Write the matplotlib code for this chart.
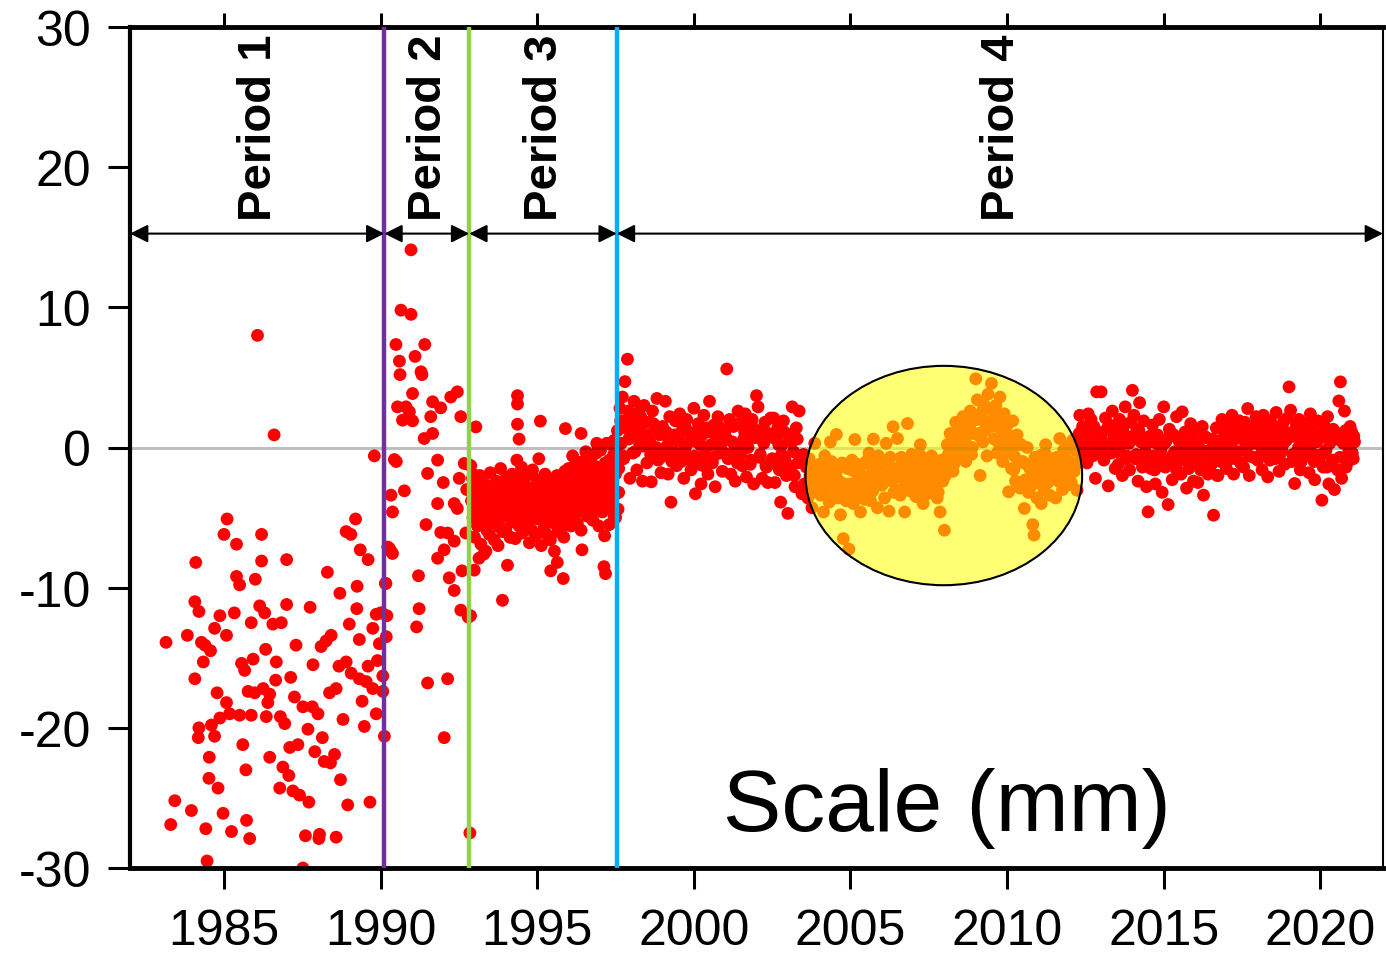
import matplotlib
matplotlib.use("Agg")
import matplotlib.pyplot as plt
from matplotlib.patches import Ellipse
import numpy as np

plt.rcParams['font.family'] = ['Liberation Sans', 'DejaVu Sans']
plt.rcParams['axes.unicode_minus'] = False

# ---------------- data ----------------
period_bounds = [1982.0, 1990.12, 1992.83, 1997.54, 2022.0]
period_labels = ["Period 1", "Period 2", "Period 3", "Period 4"]
period_label_x = [1986.11, 1991.55, 1995.25, 2009.83]
boundary_colors = ["#7030A0", "#92D050", "#00B0F0"]

x_ticks = [1985, 1990, 1995, 2000, 2005, 2010, 2015, 2020]
y_ticks = [-30, -20, -10, 0, 10, 20, 30]

p1_year = [1983.15, 1983.3, 1983.43, 1983.83, 1983.96, 1984.07, 1984.07, 1984.1, 1984.2, 1984.18,
           1984.2, 1984.28, 1984.34, 1984.39, 1984.42, 1984.46, 1984.52, 1984.53, 1984.57, 1984.6,
           1984.7, 1984.7, 1984.78, 1984.81, 1984.87, 1984.87, 1984.97, 1985.0, 1985.08, 1985.08,
           1985.1, 1985.18, 1985.24, 1985.33, 1985.4, 1985.4, 1985.5, 1985.5, 1985.56, 1985.6,
           1985.66, 1985.7, 1985.72, 1985.77, 1985.82, 1985.87, 1985.87, 1985.93, 1985.98, 1986.0,
           1986.07, 1986.14, 1986.2, 1986.2, 1986.25, 1986.3, 1986.33, 1986.35, 1986.4, 1986.46,
           1986.46, 1986.56, 1986.6, 1986.65, 1986.67, 1986.78, 1986.8, 1986.83, 1986.88, 1986.94,
           1987.0, 1987.0, 1987.07, 1987.1, 1987.13, 1987.2, 1987.25, 1987.3, 1987.36, 1987.41,
           1987.52, 1987.52, 1987.6, 1987.68, 1987.71, 1987.75, 1987.82, 1987.84, 1987.9, 1988.0,
           1988.03, 1988.05, 1988.1, 1988.14, 1988.2, 1988.26, 1988.3, 1988.37, 1988.4, 1988.42,
           1988.53, 1988.58, 1988.58, 1988.67, 1988.72, 1988.8, 1988.9, 1988.95, 1989.0, 1989.05,
           1989.06, 1988.9, 1989.2, 1989.24, 1989.25, 1989.32, 1989.32, 1989.35, 1989.41, 1989.48,
           1989.54, 1989.6, 1989.6, 1989.66, 1989.75, 1989.75, 1989.8, 1989.86, 1989.86, 1989.9,
           1989.96, 1990.0, 1990.04, 1990.07, 1990.07, 1990.12, 1990.15, 1988.7]
p1_val = [-13.9, -26.9, -25.2, -13.4, -25.9, -11.0, -16.5, -8.2, -11.7, -20.7,
          -20.0, -13.9, -15.3, -14.1, -27.2, -29.5, -23.6, -22.1, -14.5, -19.8,
          -12.9, -20.6, -17.5, -24.3, -12.0, -19.3, -26.1, -6.2, -13.4, -18.2,
          -5.1, -19.0, -27.4, -11.8, -6.9, -9.2, -9.8, -19.1, -15.4, -21.2,
          -15.9, -23.0, -26.6, -17.4, -27.9, -12.5, -19.1, -15.1, -17.5, -9.4,
          8.0, -11.3, -6.2, -8.1, -17.2, -11.8, -14.4, -19.2, -18.2, -17.6,
          -22.1, -12.6, 0.9, -16.6, -15.3, -24.3, -19.2, -12.5, -22.8, -19.7,
          -8.0, -11.2, -23.4, -21.4, -16.4, -24.5, -17.8, -14.1, -21.2, -24.8,
          -18.5, -30.0, -27.7, -20.1, -25.3, -11.4, -18.5, -15.5, -21.7, -19.0,
          -27.9, -27.6, -14.2, -20.7, -22.4, -13.8, -8.9, -17.5, -22.5, -13.4,
          -21.9, -17.2, -27.8, -15.6, -23.7, -19.4, -15.3, -25.5, -12.6, -6.2,
          -16.1, -6.0, -5.1, -11.5, -9.9, -13.7, -16.5, -7.3, -18.1, -19.9,
          -16.7, -8.0, -15.6, -25.3, -12.9, -17.2, -0.6, -11.9, -19.0, -15.2,
          -14.0, -11.8, -11.8, -16.3, -17.4, -20.6, -9.7, -10.4]

p2_year = [1990.97, 1990.65, 1990.97, 1990.49, 1991.41, 1991.1, 1990.6, 1990.62, 1991.29, 1991.32,
           1991.02, 1990.54, 1990.81, 1990.92, 1990.7, 1991.02, 1991.66, 1991.92, 1992.24, 1992.45,
           1991.6, 1992.56, 1991.39, 1991.66, 1990.44, 1991.82, 1991.5, 1992.51, 1992.67, 1992.8,
           1990.76, 1990.33, 1990.38, 1991.82, 1992.35, 1992.45, 1991.45, 1991.92, 1992.14, 1992.35,
           1992.72, 1990.28, 1990.38, 1992.03, 1991.82, 1990.17, 1991.21, 1992.19, 1992.35, 1992.56,
           1991.23, 1991.15, 1992.8, 1991.5, 1992.14, 1992.03, 1992.85, 1990.23, 1990.33, 1990.2,
           1990.18, 1992.6, 1992.75, 1990.5, 1992.0]
p2_val = [14.1, 9.8, 9.5, 7.35, 7.35, 6.5, 6.16, 5.2, 5.4, 5.2,
          3.85, 2.9, 2.9, 2.55, 1.95, 1.9, 3.26, 2.83, 3.6, 3.97,
          2.2, 2.2, 0.64, 1.0, -0.86, -0.9, -1.85, -2.2, -1.14, -1.2,
          -3.09, -3.4, -4.6, -4.0, -4.0, -4.35, -5.5, -6.06, -6.1, -6.68,
          -6.1, -7.2, -7.56, -7.3, -7.9, -9.7, -9.15, -9.3, -10.2, -11.6,
          -11.5, -12.8, -12.1, -16.8, -16.5, -20.7, -27.5, -7.1, -7.4, -12.0,
          -13.5, -8.8, -3.0, -1.0, -2.5]

p3_year = [1992.88, 1992.9, 1992.93, 1992.95, 1992.98, 1993.0, 1993.03, 1993.06, 1993.09, 1993.12,
           1993.15, 1993.17, 1993.2, 1993.22, 1993.25, 1993.28, 1993.3, 1993.33, 1993.36, 1993.39,
           1993.42, 1993.44, 1993.47, 1993.5, 1993.52, 1993.55, 1993.58, 1993.6, 1993.63, 1993.65,
           1993.67, 1993.7, 1993.72, 1993.75, 1993.78, 1993.8, 1993.83, 1993.85, 1993.88, 1993.9,
           1993.92, 1993.95, 1993.97, 1994.0, 1994.02, 1994.05, 1994.08, 1994.1, 1994.13, 1994.15,
           1994.17, 1994.2, 1994.22, 1994.25, 1994.28, 1994.3, 1994.33, 1994.35, 1994.38, 1994.4,
           1994.42, 1994.45, 1994.47, 1994.5, 1994.52, 1994.55, 1994.58, 1994.6, 1994.63, 1994.65,
           1994.67, 1994.7, 1994.72, 1994.75, 1994.78, 1994.8, 1994.83, 1994.85, 1994.88, 1994.9,
           1994.92, 1994.95, 1994.97, 1995.0, 1995.02, 1995.05, 1995.08, 1995.1, 1995.13, 1995.15,
           1995.17, 1995.2, 1995.22, 1995.25, 1995.28, 1995.3, 1995.33, 1995.35, 1995.38, 1995.4,
           1995.42, 1995.45, 1995.47, 1995.5, 1995.52, 1995.55, 1995.58, 1995.6, 1995.63, 1995.65,
           1995.67, 1995.7, 1995.72, 1995.75, 1995.78, 1995.8, 1995.83, 1995.85, 1995.88, 1995.9,
           1995.92, 1995.95, 1995.97, 1996.0, 1996.02, 1996.05, 1996.08, 1996.1, 1996.13, 1996.15,
           1996.17, 1996.2, 1996.22, 1996.25, 1996.28, 1996.3, 1996.33, 1996.35, 1996.38, 1996.4,
           1996.42, 1996.45, 1996.47, 1996.5, 1996.52, 1996.55, 1996.58, 1996.6, 1996.63, 1996.65,
           1996.67, 1996.7, 1996.72, 1996.75, 1996.78, 1996.8, 1996.83, 1996.85, 1996.88, 1996.9,
           1996.92, 1996.95, 1996.97, 1997.0, 1997.02, 1997.05, 1997.08, 1997.1, 1997.13, 1997.15,
           1997.17, 1997.2, 1997.22, 1997.25, 1997.28, 1997.3, 1997.33, 1997.35, 1997.38, 1997.4,
           1997.42, 1997.44, 1997.46, 1997.48, 1997.5, 1997.52, 1997.53,
           1994.37, 1994.37, 1994.37, 1995.1, 1995.9, 1994.42, 1993.89, 1992.99, 1995.43, 1995.83,
           1997.13, 1997.18, 1996.43, 1994.15, 1995.64, 1993.14, 1993.36, 1993.04, 1993.0, 1992.87,
           1996.9, 1997.45, 1996.4, 1997.3, 1997.5]
p3_val = [-1.3, -3.8, -2.2, -5.0, -3.1, -6.4, -4.2, -2.7, -5.6, -3.6,
          -4.8, -2.0, -6.9, -3.3, -5.2, -4.0, -7.6, -2.6, -4.6, -5.9,
          -3.0, -4.4, -6.2, -1.8, -3.9, -5.1, -2.9, -4.7, -6.6, -3.5,
          -5.4, -2.4, -4.1, -7.0, -3.2, -5.7, -1.5, -4.5, -3.7, -6.0,
          -2.8, -4.9, -3.4, -5.8, -2.1, -8.4, -4.3, -3.0, -6.4, -5.0,
          -3.6, -1.9, -5.3, -4.0, -2.6, -6.5, -3.3, -0.9, -4.7, -2.2,
          -5.6, -3.1, -4.4, -1.4, -6.1, -3.8, -2.5, -5.0, -3.4, -4.6,
          -2.0, -5.4, -3.7, -6.8, -2.9, -4.2, -5.9, -1.6, -3.5, -4.8,
          -3.0, -6.3, -4.0, -2.3, -5.1, -0.8, -3.6, -4.5, -7.0, -2.7,
          -4.9, -3.2, -5.7, -1.9, -4.3, -6.2, -3.0, -5.3, -2.4, -4.0,
          -6.6, -3.5, -5.0, -2.6, -4.6, -7.4, -3.9, -5.5, -2.0, -4.3,
          -6.0, -3.1, -4.8, -5.9, -2.3, -4.1, -3.4, -6.4, -1.7, -3.8,
          -5.2, -2.7, -3.6, -1.5, -4.4, -2.2, -5.6, -3.1, -0.6, -3.9,
          -2.4, -4.8, -1.2, -3.5, -5.4, -2.0, -3.0, -4.2, -1.8, -5.9,
          -3.3, -1.0, -4.5, -2.6, -3.8, -0.3, -2.9, -4.9, -1.6, -3.5,
          -2.2, -4.1, -0.8, -3.2, -5.2, -1.9, -2.7, -4.4, -0.4, -3.6,
          -1.4, -3.0, -5.6, -2.1, -0.2, -3.8, -4.6, -1.7, -2.8, -6.3,
          -1.1, -3.4, 0.3, -2.4, -4.3, -0.9, -2.0, -3.7, 0.2, -1.6,
          -2.9, -0.5, -4.9, 0.4, -1.9, -3.3, -0.2,
          3.7, 3.1, 1.66, 1.88, 1.35, 0.6, -10.9, -8.75, -8.8, -9.35,
          -8.5, -9.0, -7.3, -6.4, -8.2, -7.9, -7.4, 1.47, -1.97, -12.0,
          0.3, 0.5, 1.0, -5.5, -5.0]

p3b_year = [1993.01, 1993.11, 1993.21, 1993.31, 1993.41, 1993.51, 1993.61, 1993.71, 1993.81, 1993.91,
            1994.01, 1994.11, 1994.21, 1994.31, 1994.41, 1994.51, 1994.61, 1994.71, 1994.81, 1994.91,
            1995.01, 1995.11, 1995.21, 1995.31, 1995.41, 1995.51, 1995.61, 1995.71, 1995.81, 1995.91,
            1996.01, 1996.11, 1996.21, 1996.31, 1996.41, 1996.51, 1996.61, 1996.71, 1996.81, 1996.91,
            1997.01, 1997.11, 1997.21, 1997.31, 1997.41, 1997.51]
p3b_val = [-4.5, -3.4, -4.2, -5.0, -3.8, -4.6, -3.3, -4.9, -4.0, -3.2,
           -4.6, -3.7, -4.3, -3.0, -4.8, -3.6, -4.1, -3.2, -4.5, -3.9,
           -4.2, -3.1, -4.6, -3.5, -4.9, -3.8, -4.4, -3.3, -4.7, -2.9,
           -3.4, -2.6, -3.9, -2.9, -3.7, -2.2, -3.2, -2.7, -3.4, -2.4,
           -2.9, -2.0, -3.1, -1.4, -2.4, -1.2]

p4_year = [1997.56, 1997.6, 1997.64, 1997.68, 1997.72, 1997.76, 1997.8, 1997.84, 1997.88, 1997.92, 1997.96,
           1998.0, 1998.05, 1998.09, 1998.14, 1998.18, 1998.23, 1998.27, 1998.32, 1998.36, 1998.41, 1998.45,
           1998.5, 1998.55, 1998.59, 1998.64, 1998.68, 1998.73, 1998.77, 1998.82, 1998.86, 1998.91, 1998.95,
           1999.0, 1999.05, 1999.09, 1999.14, 1999.18, 1999.23, 1999.27, 1999.32, 1999.36, 1999.41, 1999.45,
           1999.5, 1999.55, 1999.59, 1999.64, 1999.68, 1999.73, 1999.77, 1999.82, 1999.86, 1999.91, 1999.95,
           2000.0, 2000.05, 2000.09, 2000.14, 2000.18, 2000.23, 2000.27, 2000.32, 2000.36, 2000.41, 2000.45,
           2000.5, 2000.55, 2000.59, 2000.64, 2000.68, 2000.73, 2000.77, 2000.82, 2000.86, 2000.91, 2000.95,
           2001.0, 2001.05, 2001.09, 2001.14, 2001.18, 2001.23, 2001.27, 2001.32, 2001.36, 2001.41, 2001.45,
           2001.5, 2001.55, 2001.59, 2001.64, 2001.68, 2001.73, 2001.77, 2001.82, 2001.86, 2001.91, 2001.95,
           2002.0, 2002.05, 2002.09, 2002.14, 2002.18, 2002.23, 2002.27, 2002.32, 2002.36, 2002.41, 2002.45,
           2002.5, 2002.55, 2002.59, 2002.64, 2002.68, 2002.73, 2002.77, 2002.82, 2002.86, 2002.91, 2002.95,
           2003.0, 2003.05, 2003.09, 2003.14, 2003.18, 2003.23, 2003.27, 2003.32, 2003.36, 2003.41, 2003.45,
           2003.5, 2003.55, 2003.59, 2003.64, 2003.68, 2003.73, 2003.77, 2003.82, 2003.86, 2003.91, 2003.95,
           2004.0, 2004.05, 2004.09, 2004.14, 2004.18, 2004.23, 2004.27, 2004.32, 2004.36, 2004.41, 2004.45,
           2004.5, 2004.55, 2004.59, 2004.64, 2004.68, 2004.73, 2004.77, 2004.82, 2004.86, 2004.91, 2004.95,
           2005.0, 2005.05, 2005.09, 2005.14, 2005.18, 2005.23, 2005.27, 2005.32, 2005.36, 2005.41, 2005.45,
           2005.5, 2005.55, 2005.59, 2005.64, 2005.68, 2005.73, 2005.77, 2005.82, 2005.86, 2005.91, 2005.95,
           2006.0, 2006.05, 2006.09, 2006.14, 2006.18, 2006.23, 2006.27, 2006.32, 2006.36, 2006.41, 2006.45,
           2006.5, 2006.55, 2006.59, 2006.64, 2006.68, 2006.73, 2006.77, 2006.82, 2006.86, 2006.91, 2006.95,
           2007.0, 2007.05, 2007.09, 2007.14, 2007.18, 2007.23, 2007.27, 2007.32, 2007.36, 2007.41, 2007.45,
           2007.5, 2007.55, 2007.59, 2007.64, 2007.68, 2007.73, 2007.77, 2007.82, 2007.86, 2007.91, 2007.95,
           2008.0, 2008.05, 2008.09, 2008.14, 2008.18, 2008.23, 2008.27, 2008.32, 2008.36, 2008.41, 2008.45,
           2008.5, 2008.55, 2008.59, 2008.64, 2008.68, 2008.73, 2008.77, 2008.82, 2008.86, 2008.91, 2008.95,
           2009.0, 2009.05, 2009.09, 2009.14, 2009.18, 2009.23, 2009.27, 2009.32, 2009.36, 2009.41, 2009.45,
           2009.5, 2009.55, 2009.59, 2009.64, 2009.68, 2009.73, 2009.77, 2009.82, 2009.86, 2009.91, 2009.95,
           2010.0, 2010.05, 2010.09, 2010.14, 2010.18, 2010.23, 2010.27, 2010.32, 2010.36, 2010.41, 2010.45,
           2010.5, 2010.55, 2010.59, 2010.64, 2010.68, 2010.73, 2010.77, 2010.82, 2010.86, 2010.91, 2010.95,
           2011.0, 2011.05, 2011.09, 2011.14, 2011.18, 2011.23, 2011.27, 2011.32, 2011.36, 2011.41, 2011.45,
           2011.5, 2011.55, 2011.59, 2011.64, 2011.68, 2011.73, 2011.77, 2011.82, 2011.86, 2011.91, 2011.95,
           2012.0, 2012.05, 2012.09, 2012.14, 2012.18, 2012.23, 2012.27, 2012.32, 2012.36, 2012.41, 2012.45,
           2012.5, 2012.55, 2012.59, 2012.64, 2012.68, 2012.73, 2012.77, 2012.82, 2012.86, 2012.91, 2012.95,
           2013.0, 2013.05, 2013.09, 2013.14, 2013.18, 2013.23, 2013.27, 2013.32, 2013.36, 2013.41, 2013.45,
           2013.5, 2013.55, 2013.59, 2013.64, 2013.68, 2013.73, 2013.77, 2013.82, 2013.86, 2013.91, 2013.95,
           2014.0, 2014.05, 2014.09, 2014.14, 2014.18, 2014.23, 2014.27, 2014.32, 2014.36, 2014.41, 2014.45,
           2014.5, 2014.55, 2014.59, 2014.64, 2014.68, 2014.73, 2014.77, 2014.82, 2014.86, 2014.91, 2014.95,
           2015.0, 2015.05, 2015.09, 2015.14, 2015.18, 2015.23, 2015.27, 2015.32, 2015.36, 2015.41, 2015.45,
           2015.5, 2015.55, 2015.59, 2015.64, 2015.68, 2015.73, 2015.77, 2015.82, 2015.86, 2015.91, 2015.95,
           2016.0, 2016.05, 2016.09, 2016.14, 2016.18, 2016.23, 2016.27, 2016.32, 2016.36, 2016.41, 2016.45,
           2016.5, 2016.55, 2016.59, 2016.64, 2016.68, 2016.73, 2016.77, 2016.82, 2016.86, 2016.91, 2016.95,
           2017.0, 2017.05, 2017.09, 2017.14, 2017.18, 2017.23, 2017.27, 2017.32, 2017.36, 2017.41, 2017.45,
           2017.5, 2017.55, 2017.59, 2017.64, 2017.68, 2017.73, 2017.77, 2017.82, 2017.86, 2017.91, 2017.95,
           2018.0, 2018.05, 2018.09, 2018.14, 2018.18, 2018.23, 2018.27, 2018.32, 2018.36, 2018.41, 2018.45,
           2018.5, 2018.55, 2018.59, 2018.64, 2018.68, 2018.73, 2018.77, 2018.82, 2018.86, 2018.91, 2018.95,
           2019.0, 2019.05, 2019.09, 2019.14, 2019.18, 2019.23, 2019.27, 2019.32, 2019.36, 2019.41, 2019.45,
           2019.5, 2019.55, 2019.59, 2019.64, 2019.68, 2019.73, 2019.77, 2019.82, 2019.86, 2019.91, 2019.95,
           2020.0, 2020.05, 2020.09, 2020.14, 2020.18, 2020.23, 2020.27, 2020.32, 2020.36, 2020.41, 2020.45,
           2020.5, 2020.55, 2020.59, 2020.64, 2020.68, 2020.73, 2020.77, 2020.82, 2020.86, 2020.91, 2020.95,
           2021.0, 2021.05, 2021.09, 1997.58, 1997.6]
p4_val = [1.2, -1.5, 2.8, 0.3, 3.6, -0.8, 4.7, 1.9, 6.3, 0.6, -2.2,
          2.1, -0.4, 3.3, 1.0, -1.6, 2.5, 0.2, 1.6, -2.4, 3.0, 0.7,
          -1.1, 1.8, 0.4, -2.45, 2.6, -0.2, 1.2, 3.5, -0.9, 0.9, -1.8,
          1.5, -0.6, 3.3, 0.1, -1.9, 2.2, -3.9, 0.8, -0.3, 1.9, -1.3,
          0.5, 2.4, -1.0, 1.3, -2.2, 0.0, 2.0, -0.7, 1.1, -1.6, 0.6,
          2.8, -3.3, 0.4, 1.7, -1.2, -2.6, 0.9, 2.3, -0.5, 1.4, -1.9,
          3.3, 0.2, -1.1, 1.6, -2.8, 0.8, 2.2, -0.4, 1.0, -1.7, 0.5,
          1.2, 5.6, -0.8, 2.0, -1.9, 0.4, 1.5, -2.4, 0.1, 2.6, -0.6,
          1.8, -1.3, 0.6, 2.4, -2.1, 0.0, 1.3, -0.9, 2.0, -2.6, 0.7,
          3.7, 2.9, -0.7, 1.1, -2.2, 0.3, 1.8, -1.4, -2.5, 0.8, 2.1,
          -0.8, 2.1, -2.5, 0.6, 1.4, -1.6, -3.9, 0.2, 1.9, -0.9, -2.0,
          -4.7, 0.9, -1.7, 2.9, -0.3, -2.8, 1.4, -1.1, 2.6, -0.6, -3.3,
          -0.5, -2.9, -1.4, -3.6, -0.8, -2.2, -4.3, -1.7, 0.3, -2.6, -3.1,
          -1.2, -3.4, -2.0, -4.6, -0.6, -2.7, -1.6, -3.9, 0.4, -2.3, -3.0,
          -1.8, 0.93, -3.6, -2.4, -4.8, -1.1, -6.5, -2.9, -3.8, -1.5, -7.25,
          -2.6, -0.9, -4.0, 0.57, -1.8, -3.3, -2.2, -4.6, -1.2, -2.8, -3.7,
          -1.0, -2.9, -0.4, -3.8, -1.9, 0.6, -2.5, -1.4, -4.3, -0.9, -2.2,
          -2.7, -1.1, -3.6, 0.3, -1.9, -4.54, -0.7, -2.4, 1.48, -1.5, -3.0,
          0.64, -2.1, -3.4, -0.9, -1.6, -4.6, -2.6, 1.71, -1.2, -3.1, -0.5,
          -2.3, -0.8, -3.5, -1.5, -2.8, 0.2, -1.9, -4.0, -1.0, -2.6, -3.3,
          -1.4, -3.0, -0.6, -2.2, -1.7, -2.8, -3.6, -2.4, -4.6, -0.9, -2.4,
          -5.9, -1.5, 0.2, -0.9, 1.0, -0.3, -1.7, 0.8, 1.8, -0.6, 0.4,
          1.3, -0.2, 2.2, 0.6, -1.0, 1.7, 0.1, 2.6, -0.5, 1.0, 2.0,
          4.9, 3.4, 1.0, -2.0, 2.3, 0.4, 3.0, 1.5, -0.6, 2.8, 1.8,
          4.57, 2.0, 0.6, 3.0, -0.4, 1.7, 3.6, 0.9, -1.0, 2.4, 1.1,
          1.6, -3.16, 0.4, -1.5, 1.9, -0.6, -2.4, 0.9, -1.1, -2.9, 0.2,
          -1.0, -4.35, -2.3, 0.0, -3.2, -1.5, -2.7, -5.5, -6.25, -1.9, -3.6,
          -2.5, -0.6, -4.0, -1.6, -3.0, 0.2, -2.2, -1.1, -3.4, -2.0, -0.8,
          -1.9, -3.6, -0.7, -2.4, 0.64, -1.2, -3.0, -0.4, -1.8, -2.7, 0.1,
          -1.0, -2.5, 0.5, -1.7, -0.2, -3.05, 0.8, 2.3, -0.8, 1.5, 0.2,
          1.2, -1.1, 2.4, 0.3, 2.0, -0.6, 1.5, -2.2, 3.97, 0.8, -0.3,
          3.97, 1.1, -0.9, 2.1, 0.0, -2.74, 1.6, -0.4, 2.6, 0.6, -1.5,
          1.4, -1.2, 2.0, 0.2, -2.0, 1.0, 2.9, -0.6, 0.7, -1.6, 1.8,
          4.08, 2.3, -0.8, 1.3, -2.4, 3.2, 0.4, -1.4, 1.9, -0.3, -2.8,
          -4.59, 0.8, -1.5, 1.6, -0.6, -2.6, 0.3, -1.1, 2.0, -0.2, -3.2,
          2.9, -1.4, 0.5, -4.07, 1.3, -0.8, -2.3, 0.9, -0.3, 2.2, -1.7,
          0.4, -1.9, 2.54, -0.6, 1.1, -2.9, 0.2, -1.2, 1.7, -0.4, -2.4,
          -1.0, 1.2, -2.5, 0.0, -1.6, 1.5, -3.4, -0.5, 0.7, -1.9, -0.2,
          -1.3, 0.6, -4.83, -0.4, 1.4, -2.0, 0.2, -1.0, 2.0, -0.5, 0.9,
          -1.5, 1.6, 0.1, -0.8, 2.3, -1.9, 0.7, 1.2, -0.3, 1.9, -1.1,
          0.6, -1.4, 1.8, -0.2, 2.78, -2.0, 0.9, 1.5, -0.7, 0.3, 2.2,
          -0.9, 1.7, 0.4, -1.6, 2.3, -0.3, 1.1, -2.1, 0.7, 1.9, -0.5,
          1.3, -0.8, 2.5, 0.2, -1.7, 1.0, -0.2, 1.8, -1.2, 0.5, 2.1,
          4.32, 2.66, -1.0, 0.8, -2.57, 1.5, -0.3, 2.0, -1.6, 0.4, 1.2,
          -0.6, 1.7, 0.1, -1.8, 2.4, -0.4, 1.2, -2.3, 0.6, 1.9, -0.9,
          0.8, -3.76, -1.4, 1.5, -0.2, 2.2, -2.6, 0.5, -1.0, 1.3, -3.0,
          0.6, -1.6, 3.32, 4.68, -2.2, 0.3, 2.6, -1.4, 0.9, -0.3, 1.5,
          1.1, -0.8, 0.4, -4.4, -3.2]

p4b_year = [1997.58, 1997.66, 1997.74, 1997.82, 1997.9,
            1998.03, 1998.12, 1998.21, 1998.3, 1998.39, 1998.53, 1998.62, 1998.71, 1998.8, 1998.89,
            1999.03, 1999.12, 1999.21, 1999.3, 1999.39, 1999.53, 1999.62, 1999.71, 1999.8, 1999.89,
            2000.03, 2000.12, 2000.21, 2000.3, 2000.39, 2000.53, 2000.62, 2000.71, 2000.8, 2000.89,
            2001.03, 2001.12, 2001.21, 2001.3, 2001.39, 2001.53, 2001.62, 2001.71, 2001.8, 2001.89,
            2002.03, 2002.12, 2002.21, 2002.3, 2002.39, 2002.53, 2002.62, 2002.71, 2002.8, 2002.89,
            2003.03, 2003.12, 2003.21, 2003.3, 2003.39, 2003.53, 2003.62, 2003.71, 2003.8, 2003.89,
            2004.03, 2004.12, 2004.21, 2004.3, 2004.39, 2004.53, 2004.62, 2004.71, 2004.8, 2004.89,
            2005.03, 2005.12, 2005.21, 2005.3, 2005.39, 2005.53, 2005.62, 2005.71, 2005.8, 2005.89,
            2006.03, 2006.12, 2006.21, 2006.3, 2006.39, 2006.53, 2006.62, 2006.71, 2006.8, 2006.89,
            2007.03, 2007.12, 2007.21, 2007.3, 2007.39, 2007.53, 2007.62, 2007.71, 2007.8, 2007.89,
            2008.03, 2008.12, 2008.21, 2008.3, 2008.39, 2008.53, 2008.62, 2008.71, 2008.8, 2008.89,
            2009.03, 2009.12, 2009.21, 2009.3, 2009.39, 2009.53, 2009.62, 2009.71, 2009.8, 2009.89,
            2010.03, 2010.12, 2010.21, 2010.3, 2010.39, 2010.53, 2010.62, 2010.71, 2010.8, 2010.89,
            2011.03, 2011.12, 2011.21, 2011.3, 2011.39, 2011.53, 2011.62, 2011.71, 2011.8, 2011.89,
            2012.03, 2012.12, 2012.21, 2012.3, 2012.39, 2012.53, 2012.62, 2012.71, 2012.8, 2012.89,
            2013.03, 2013.12, 2013.21, 2013.3, 2013.39, 2013.53, 2013.62, 2013.71, 2013.8, 2013.89,
            2014.03, 2014.12, 2014.21, 2014.3, 2014.39, 2014.53, 2014.62, 2014.71, 2014.8, 2014.89,
            2015.03, 2015.12, 2015.21, 2015.3, 2015.39, 2015.53, 2015.62, 2015.71, 2015.8, 2015.89,
            2016.03, 2016.12, 2016.21, 2016.3, 2016.39, 2016.53, 2016.62, 2016.71, 2016.8, 2016.89,
            2017.03, 2017.12, 2017.21, 2017.3, 2017.39, 2017.53, 2017.62, 2017.71, 2017.8, 2017.89,
            2018.03, 2018.12, 2018.21, 2018.3, 2018.39, 2018.53, 2018.62, 2018.71, 2018.8, 2018.89,
            2019.03, 2019.12, 2019.21, 2019.3, 2019.39, 2019.53, 2019.62, 2019.71, 2019.8, 2019.89,
            2020.03, 2020.12, 2020.21, 2020.3, 2020.39, 2020.53, 2020.62, 2020.71, 2020.8, 2020.89,
            2021.02, 2021.07]
p4b_val = [0.2, 1.9, -0.6, 1.4, 2.6,
           1.5, -0.3, 0.9, 2.2, 0.1, 0.9, -0.5, 1.7, 0.0, 1.3,
           -0.4, 1.1, 0.5, -1.0, 0.9, 0.9, -0.4, 1.6, 0.3, -0.9,
           -0.6, 1.0, 0.2, -1.3, 1.2, 1.1, -0.7, 0.4, 1.5, -0.2,
           0.7, -0.5, 1.6, 0.2, -1.1, -0.3, 1.1, 0.5, -1.2, 1.4,
           1.2, -0.5, 0.6, -1.3, 1.0, 0.7, -1.2, 0.2, -0.5, 1.1,
           -1.3, 0.4, -2.0, 0.6, -0.9, -2.6, -1.0, -2.0, -3.2, -1.3,
           -2.4, -1.3, -3.2, -2.0, -1.0, -2.0, -3.2, -1.4, -2.6, -3.5,
           -1.6, -2.9, -1.2, -3.0, -2.0, -2.2, -1.2, -3.1, -1.6, -0.6,
           -1.2, -2.4, -0.9, -2.1, -3.2, -1.9, -0.7, -2.3, -1.1, -2.0,
           -1.3, -2.4, -0.5, -2.0, -3.0, -2.0, -2.9, -1.2, -3.2, -1.7,
           -2.0, -0.5, 0.9, -1.2, 0.3, 0.4, 1.8, 0.9, 1.5, 0.0,
           2.0, 0.8, 2.6, 1.2, 3.8, 1.5, 2.7, 0.4, 2.2, 0.2,
           -0.3, 0.8, -1.6, 0.2, -1.0, -2.4, -1.2, -3.0, -2.0, -0.7,
           -1.3, -2.7, -0.4, -2.5, -1.5, -0.9, -2.1, -1.4, -0.2, -2.2,
           -1.6, 0.0, -1.2, 1.0, -0.2, 0.4, 1.5, -0.5, 1.0, 0.0,
           0.5, -0.5, 1.4, 0.0, 1.0, -0.3, 0.8, 1.5, -0.8, 0.3,
           0.8, -0.5, 1.2, -1.0, 0.5, -1.0, 0.4, -1.6, 0.9, -0.5,
           0.3, -1.0, 1.0, -0.5, -1.5, -0.9, 0.8, -0.2, -1.5, 0.5,
           0.3, -1.1, -0.5, 0.8, -1.4, -0.8, 0.1, -2.0, 0.5, -0.2,
           0.9, -0.4, 0.5, -0.8, 1.0, 1.1, 0.0, -0.6, 1.3, 0.5,
           0.8, -0.4, 1.4, 0.1, -0.9, 0.6, 1.4, -0.5, 0.2, 1.1,
           0.9, -0.5, 1.3, 0.0, -1.0, 0.9, -0.3, 1.0, -1.0, 0.4,
           -0.5, 0.8, -1.4, 0.3, -0.9, 1.0, -0.7, 0.4, 1.2, -1.0,
           -0.4, 0.8]

# ellipse highlight (center year, center mm, width years, height mm)
ell_center = (2007.98, -2.0)
ell_width = 8.83
ell_height = 15.65

# ---------------- figure ----------------
fig = plt.figure(figsize=(13.86, 9.54), dpi=100)
ax = fig.add_axes([130/1386, 85/954, 1253/1386, 841/954])

years = p1_year + p2_year + p3_year + p3b_year + p4_year + p4b_year
vals = p1_val + p2_val + p3_val + p3b_val + p4_val + p4b_val
ax.scatter(years, vals, s=85, color='#FF0000', edgecolors='none', zorder=2)

ax.axhline(0, color='black', alpha=0.25, lw=2.2, zorder=3)

for b, c in zip(period_bounds[1:-1], boundary_colors):
    ax.axvline(b, color=c, lw=3.2, zorder=4)

ax.add_patch(Ellipse(ell_center, ell_width, ell_height, facecolor=(1, 1, 0, 0.55),
                     edgecolor='black', lw=1.5, zorder=5))

arrow_y = 15.26
for a, b in zip(period_bounds[:-1], period_bounds[1:]):
    ax.annotate('', xy=(b, arrow_y), xytext=(a, arrow_y),
                arrowprops=dict(arrowstyle='<|-|>,head_length=0.4,head_width=0.2',
                                mutation_scale=27, lw=1.5, color='black',
                                shrinkA=0, shrinkB=0), zorder=6)

for lab, xp in zip(period_labels, period_label_x):
    ax.text(xp, 16.2, lab, rotation=90, ha='center', va='bottom',
            fontsize=34, fontweight='bold', zorder=6)

ax.text(2008.08, -27.3, 'Scale (mm)', ha='center', va='baseline', fontsize=63, zorder=6)

ax.set_xlim(period_bounds[0], period_bounds[-1])
ax.set_ylim(-30, 30)
ax.set_xticks(x_ticks)
ax.set_yticks(y_ticks)
ax.tick_params(axis='x', direction='out', length=15, width=2.2, labelsize=36, pad=14)
ax.tick_params(axis='y', direction='out', length=16, width=2.2, labelsize=36, pad=12)

top = ax.secondary_xaxis('top')
top.set_xticks(x_ticks)
top.tick_params(axis='x', direction='out', length=10, width=2.2, labeltop=False)
top.spines['top'].set_visible(False)

for side, w in [('left', 3.0), ('bottom', 3.5), ('top', 3.5), ('right', 1.5)]:
    ax.spines[side].set_linewidth(w)
    ax.spines[side].set_color('black')

fig.savefig('out.png', dpi=100)
